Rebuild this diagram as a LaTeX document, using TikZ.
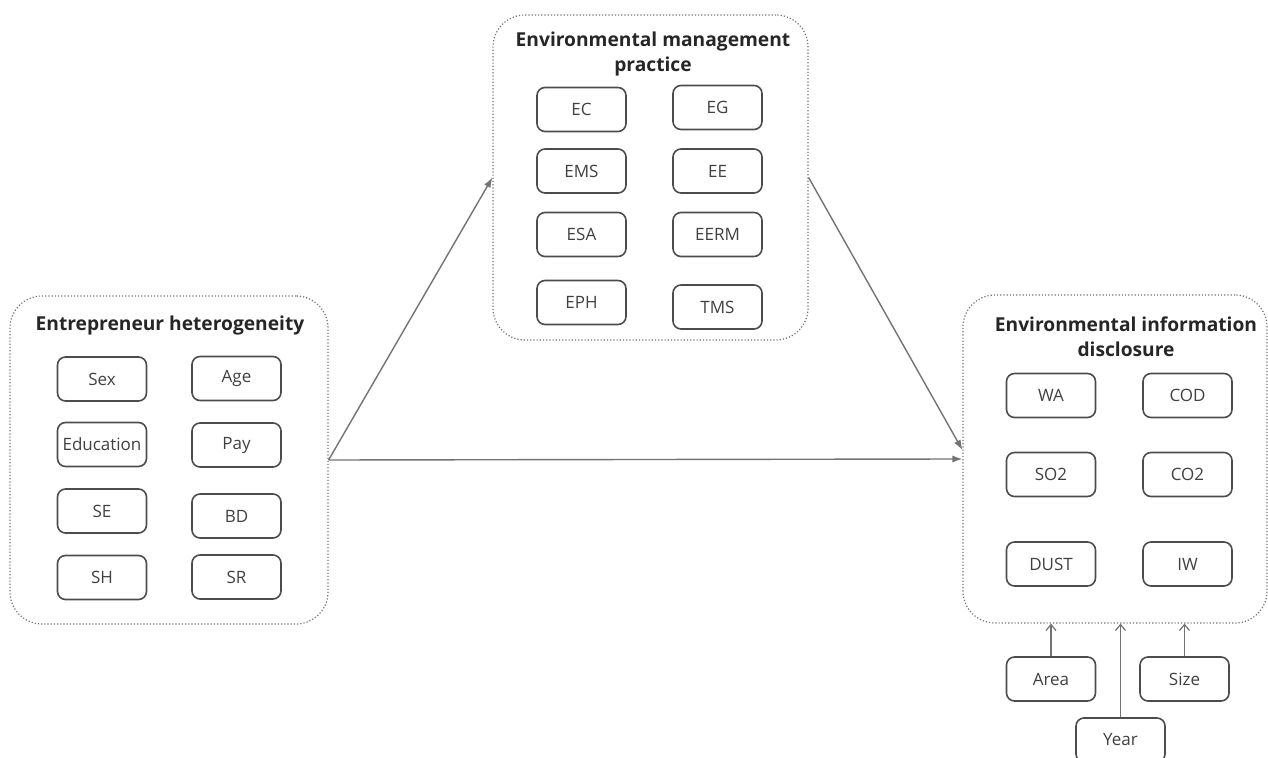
\documentclass[tikz,border=0pt]{standalone}
\usepackage{fontspec}
\setmainfont{Open Sans}
\usepackage{tikz}
\usetikzlibrary{arrows.meta, calc}

\begin{document}
\begin{tikzpicture}[x=0.5pt, y=-0.5pt,
  group/.style={draw=black!55, densely dotted, line width=0.6pt, rounded corners=16pt},
  item/.style={draw=black!70, line width=0.8pt, rounded corners=4pt, minimum width=44.5pt, minimum height=22pt, inner sep=0pt, text=black!75, font=\fontsize{8.5}{9}\selectfont},
  title/.style={align=center, text=black!85, font=\bfseries\fontsize{9.6}{12.5}\selectfont},
  flow/.style={draw=black!55, line width=0.7pt, -{Latex[length=5pt,width=3.6pt]}},
  ctrl/.style={draw=black!55, line width=0.6pt, -{Straight Barb[length=3pt,width=5pt]}}]
  \useasboundingbox (0,0) rectangle (1268,758);
  % three groups
  \node[group, minimum width=159pt, minimum height=164pt] (EH) at (169,460) {};
  \node[group, minimum width=157.5pt, minimum height=162.5pt] (EMP) at (650.5,177.5) {};
  \node[group, minimum width=152pt, minimum height=164pt] (EID) at (1115,459) {};
  \node[title] (EHt) at (170,326) {Entrepreneur heterogeneity};
  \node[title] (EMPt) at (653,54) {Environmental management\\practice};
  \node[title] (EIDt) at (1126,337) {Environmental information\\disclosure};
  % entrepreneur heterogeneity
  \node[item] (Sex) at (102,379) {Sex};
  \node[item] (Age) at (236.5,378.5) {Age};
  \node[item] (Edu) at (102,444.5) {Education};
  \node[item] (Pay) at (236.5,445) {Pay};
  \node[item] (SE) at (102,511) {SE};
  \node[item] (BD) at (236.5,516) {BD};
  \node[item] (SH) at (102,577.5) {SH};
  \node[item] (SR) at (236.5,577) {SR};
  % environmental management practice
  \node[item] (EC) at (581.5,109.5) {EC};
  \node[item] (EG) at (717.5,107.5) {EG};
  \node[item] (EMS) at (581.5,171) {EMS};
  \node[item] (EE) at (717.5,171) {EE};
  \node[item] (ESA) at (581.5,234.5) {ESA};
  \node[item] (EERM) at (717.5,234.5) {EERM};
  \node[item] (EPH) at (581.5,302.5) {EPH};
  \node[item] (TMS) at (717.5,307) {TMS};
  % environmental information disclosure
  \node[item] (WA) at (1051,395.5) {WA};
  \node[item] (COD) at (1187.5,395.5) {COD};
  \node[item] (SO2) at (1051,474.5) {SO2};
  \node[item] (CO2) at (1187.5,474.5) {CO2};
  \node[item] (DUST) at (1051,564) {DUST};
  \node[item] (IW) at (1187.5,564) {IW};
  % controls
  \node[item] (Area) at (1051,679) {Area};
  \node[item] (Size) at (1184.5,679) {Size};
  \node[item] (Year) at (1120.5,740) {Year};
  \draw[flow] (EH.east) -- (EMP.west);
  \draw[flow] (EMP.east) -- ([yshift=4.5pt]EID.west);
  \draw[flow] (EH.east) -- (EID.west);
  \draw[ctrl] (Area.north) -- (Area.north |- EID.south);
  \draw[ctrl] (Year.north) -- (Year.north |- EID.south);
  \draw[ctrl] (Size.north) -- (Size.north |- EID.south);
\end{tikzpicture}
\end{document}
